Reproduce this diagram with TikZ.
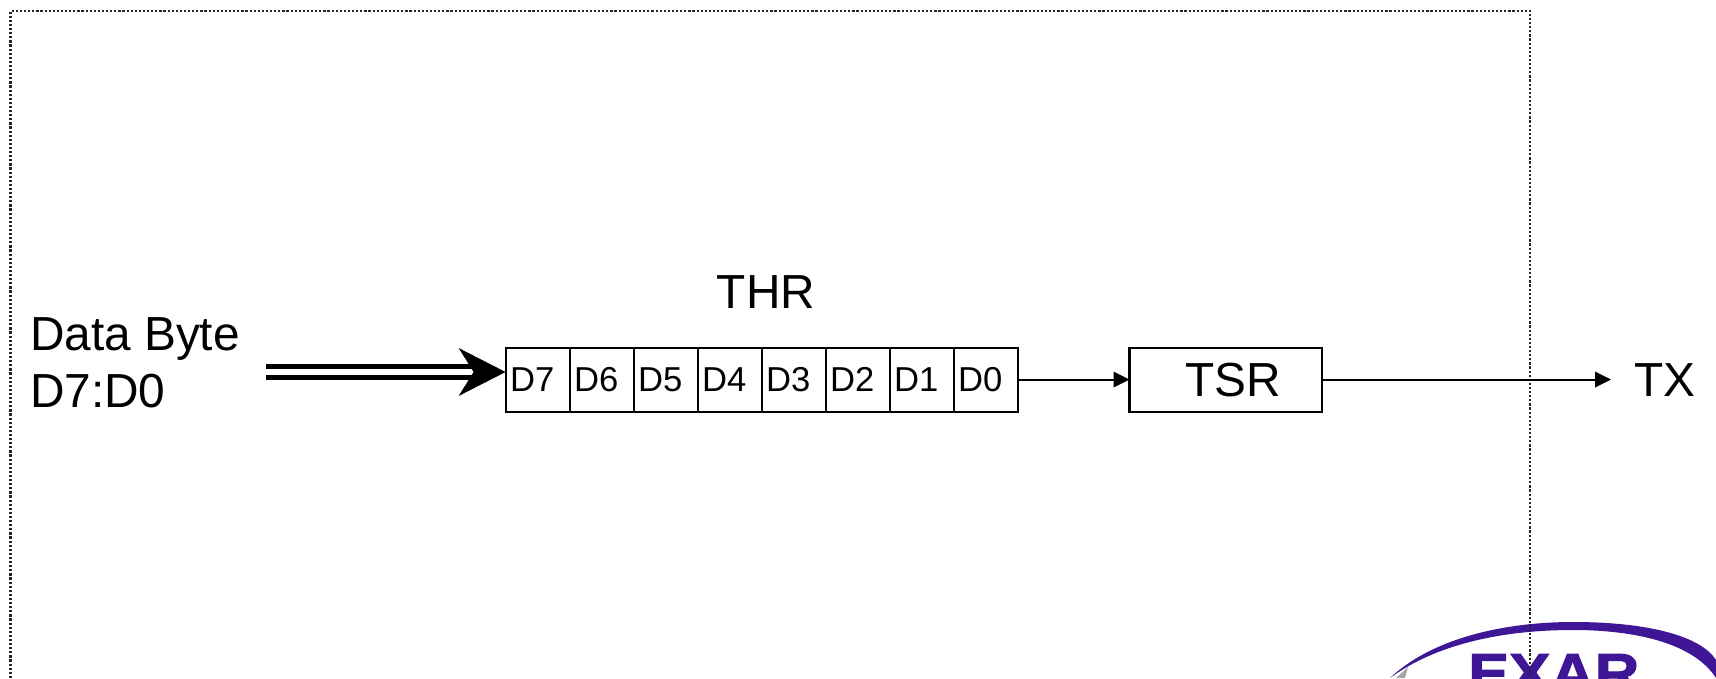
\documentclass[tikz,border=0pt]{standalone}
\usepackage{fontspec}
\setmainfont{Liberation Sans}
\newfontfamily\logofont[FakeBold=2,FakeStretch=1.1]{Liberation Sans Bold}
\definecolor{exar}{RGB}{62,22,150}
\tikzset{
  cell/.style={draw=black,line width=2.2pt,outer sep=0pt,text width=64pt,align=left,minimum height=64pt,inner sep=0pt,font=\fontsize{34.6}{38}\selectfont,execute at begin node={\hspace*{4.5pt}}},
  biglabel/.style={font=\fontsize{47.8}{57}\selectfont,inner sep=0pt,outer sep=0pt},
  link/.style={draw=black,line width=2pt},
  tiparrow/.style={fill=black,draw=none},
  framebox/.style={draw=black!85,line width=2.2pt,dash pattern=on 2.2pt off 1.9pt}
}
\begin{document}
\begin{tikzpicture}[x=1pt,y=-1pt]
\useasboundingbox (0,0) rectangle (1716,678);
\fill[white] (0,0) rectangle (1716,678);
% logo
\begin{scope}
\clip (0,0) rectangle (1716,678);
\fill[exar] (1390,678) .. controls (1430,640) and (1500,622) .. (1573,622)
  .. controls (1645,622) and (1700,635) .. (1716,660) -- (1716,678)
  .. controls (1695,645) and (1640,630) .. (1573,630)
  .. controls (1500,630) and (1435,645) .. (1390,678) -- cycle;
\fill[black!35] (1408,667) -- (1396,678) -- (1405,678) -- cycle;
\node[anchor=north west,inner sep=0pt,text=exar,font=\fontsize{56}{56}\logofont\selectfont] (logo) at (1468,654) {EXAR};
\end{scope}
% frame
\draw[framebox] (10.5,678) -- (10.5,11) -- (1530,11) -- (1530,678);
% cells
\node[cell,anchor=north west] (c7) at (505.6,347.6) {D7};
\node[cell,anchor=west] (c6) at (c7.east) {D6};
\node[cell,anchor=west] (c5) at (c6.east) {D5};
\node[cell,anchor=west] (c4) at (c5.east) {D4};
\node[cell,anchor=west] (c3) at (c4.east) {D3};
\node[cell,anchor=west] (c2) at (c3.east) {D2};
\node[cell,anchor=west] (c1) at (c2.east) {D1};
\node[cell,anchor=west] (c0) at (c1.east) {D0};
\node[draw=black,line width=2.2pt,outer sep=0pt,minimum width=192.5pt,minimum height=64pt,anchor=north west] (tsr) at (1129.5,347.6) {};
\node[biglabel] (tsrtext) at (1233,379.6) {TSR};
\node[biglabel] (thr) at (766,292) {THR};
\node[biglabel,anchor=west] (tx) at (1634,379.6) {TX};
\node[biglabel,anchor=west,align=left] (data) at (30,363) {Data Byte\\D7:D0};
\coordinate (txend) at (1611,379.6);
\coordinate (dstart) at (266,372);
% connectors
\draw[link] (c0.east) -- ([xshift=-15pt]tsr.west);
\fill[tiparrow] (tsr.west) -- ++(-16,-8) -- ++(0,16) -- cycle;
\draw[link] (tsr.east) -- ([xshift=-15pt]txend);
\fill[tiparrow] (txend) -- ++(-16,-8) -- ++(0,16) -- cycle;
\draw[line width=5.5pt] ([yshift=-5.3pt]dstart) -- ++(212,0);
\draw[line width=5.5pt] ([yshift=5.3pt]dstart) -- ++(212,0);
\fill[tiparrow] (c7.west |- dstart) -- ++(-47,-24) -- ++(15,24) -- ++(-15,24) -- cycle;
\end{tikzpicture}
\end{document}
